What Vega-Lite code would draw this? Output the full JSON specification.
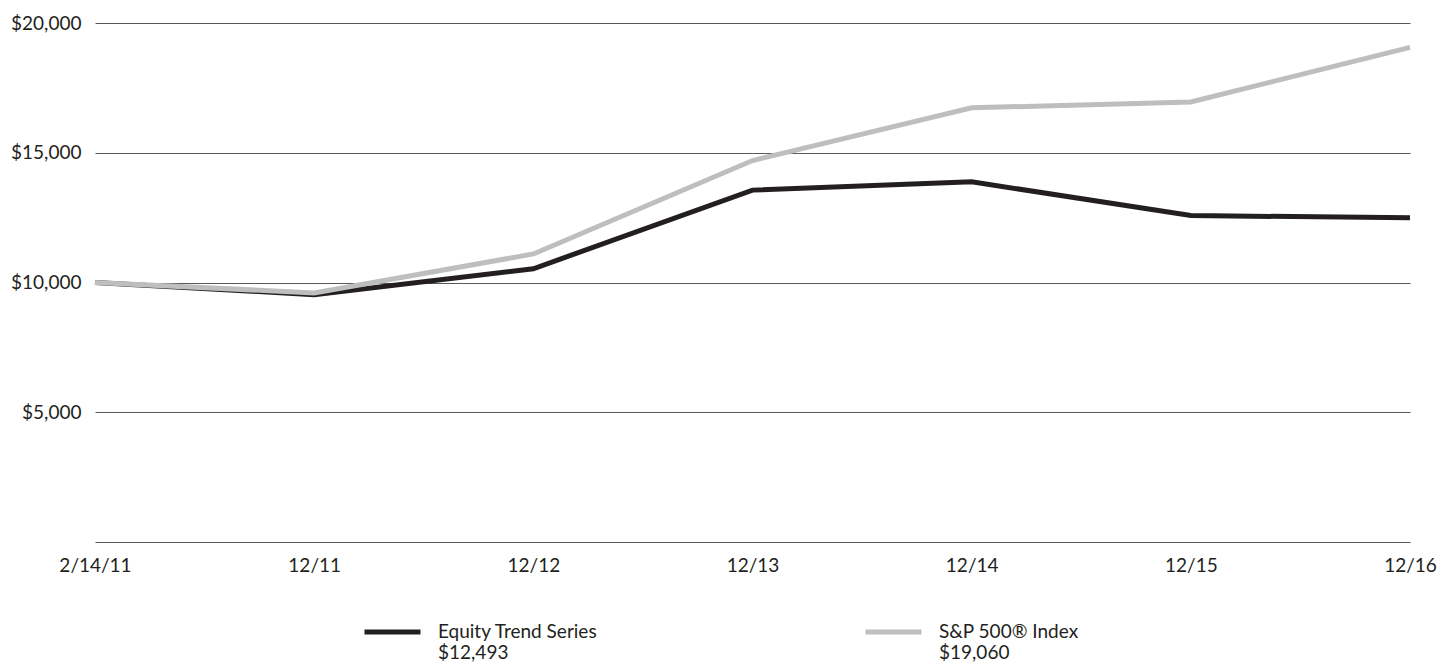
{
  "$schema": "https://vega.github.io/schema/vega-lite/v6.json",
  "autosize": {"type": "none"},
  "width": 1315,
  "height": 519,
  "padding": {"left": 95, "top": 23, "right": 27, "bottom": 123},
  "background": "white",
  "config": {
    "view": {"stroke": null},
    "font": "Lato",
    "axis": {"labelFont": "Lato", "labelFontSize": 19, "labelColor": "#231f20"},
    "legend": {"labelFont": "Lato", "labelFontSize": 19, "labelColor": "#231f20"}
  },
  "data": {
    "values": [
      {"series": "Equity Trend Series", "date": "2/14/11", "value": 10000},
      {"series": "Equity Trend Series", "date": "12/11", "value": 9530},
      {"series": "Equity Trend Series", "date": "12/12", "value": 10530},
      {"series": "Equity Trend Series", "date": "12/13", "value": 13560},
      {"series": "Equity Trend Series", "date": "12/14", "value": 13880},
      {"series": "Equity Trend Series", "date": "12/15", "value": 12580},
      {"series": "Equity Trend Series", "date": "12/16", "value": 12493},
      {"series": "S&P 500® Index", "date": "2/14/11", "value": 10000},
      {"series": "S&P 500® Index", "date": "12/11", "value": 9600},
      {"series": "S&P 500® Index", "date": "12/12", "value": 11100},
      {"series": "S&P 500® Index", "date": "12/13", "value": 14700},
      {"series": "S&P 500® Index", "date": "12/14", "value": 16730},
      {"series": "S&P 500® Index", "date": "12/15", "value": 16960},
      {"series": "S&P 500® Index", "date": "12/16", "value": 19060}
    ]
  },
  "mark": {"type": "line", "strokeWidth": 5, "strokeJoin": "miter"},
  "encoding": {
    "x": {
      "field": "date",
      "type": "ordinal",
      "sort": ["2/14/11", "12/11", "12/12", "12/13", "12/14", "12/15", "12/16"],
      "scale": {"type": "point", "padding": 0},
      "axis": {"title": null, "labelAngle": 0, "domain": false, "ticks": false, "grid": false, "labelPadding": 14}
    },
    "y": {
      "field": "value",
      "type": "quantitative",
      "scale": {"domain": [0, 20000], "nice": false},
      "axis": {
        "title": null,
        "values": [0, 5000, 10000, 15000, 20000],
        "labelExpr": "datum.value == 0 ? '' : '$' + format(datum.value, ',')",
        "domain": false,
        "ticks": false,
        "grid": true,
        "gridColor": "#58595b",
        "gridWidth": 1,
        "labelPadding": 14
      }
    },
    "color": {
      "field": "series",
      "type": "nominal",
      "scale": {"domain": ["Equity Trend Series", "S&P 500® Index"], "range": ["#231f20", "#bcbec0"]},
      "legend": {
        "title": null,
        "orient": "none",
        "legendX": 267,
        "legendY": 589,
        "direction": "horizontal",
        "columns": 2,
        "columnPadding": 265,
        "symbolType": "stroke",
        "symbolSize": 3136,
        "symbolStrokeWidth": 5,
        "symbolOffset": 0,
        "labelOffset": 15,
        "labelLimit": 500,
        "clipHeight": 40,
        "labelExpr": "datum.label == 'Equity Trend Series' ? ['Equity Trend Series', '$12,493'] : ['S&P 500® Index', '$19,060']"
      }
    }
  }
}
